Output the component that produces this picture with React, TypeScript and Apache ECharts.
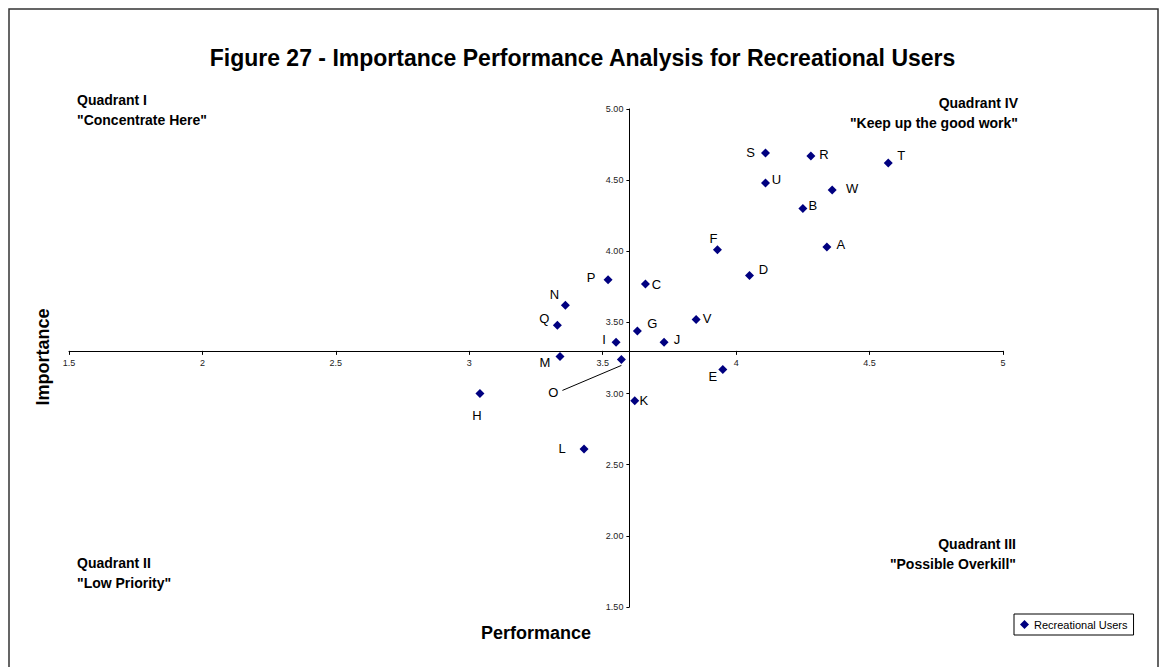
import React, { useEffect, useRef } from "react";
import * as echarts from "echarts";

const pointNames = ["A", "B", "C", "D", "E", "F", "G", "H", "I", "J", "K", "L", "M", "N", "O", "P", "Q", "R", "S", "T", "U", "V", "W"];
const performance = [4.34, 4.25, 3.66, 4.05, 3.95, 3.93, 3.63, 3.04, 3.55, 3.73, 3.62, 3.43, 3.34, 3.36, 3.57, 3.52, 3.33, 4.28, 4.11, 4.57, 4.11, 3.85, 4.36];
const importance = [4.03, 4.30, 3.77, 3.83, 3.17, 4.01, 3.44, 3.00, 3.36, 3.36, 2.95, 2.61, 3.26, 3.62, 3.24, 3.80, 3.48, 4.67, 4.69, 4.62, 4.48, 3.52, 4.43];

const xTicksMin = 1.5;
const xTicksMax = 5;
const yTicksMin = 1.5;
const yTicksMax = 5;
const tickStep = 0.5;
const crossPerformance = 3.6;
const crossImportance = 3.3;

const seriesName = "Recreational Users";
const titleText = "Figure 27 - Importance Performance Analysis for Recreational Users";
const quadrantTexts = {
  q1: 'Quadrant I\n"Concentrate Here"',
  q2: 'Quadrant II\n"Low Priority"',
  q3: 'Quadrant III\n"Possible Overkill"',
  q4: 'Quadrant IV\n"Keep up the good work"',
};

// label placement (style): offset of label centre from marker centre, px
const labelOffsets: Record<string, [number, number]> = {
  A: [14, -3], B: [10, -3], C: [11, 0], D: [14, -6], E: [-10, 7], F: [-4, -11],
  G: [15, -7], H: [-3, 22], I: [-12, -3], J: [13, -3], K: [9, 0], L: [-22, -1],
  M: [-15, 6], N: [-11, -11], O: [-68, 33], P: [-17, -2], Q: [-13, -7], R: [13, -1],
  S: [-15, -1], T: [13, -8], U: [11, -3], V: [11, -1], W: [20, -2],
};

const FONT = '"Liberation Sans", Arial, Helvetica, sans-serif';

export default function App() {
  const ref = useRef<HTMLDivElement>(null);
  useEffect(() => {
    document.body.style.margin = "0";
    if (!ref.current) return;
    const chart = echarts.init(ref.current, null, { renderer: "svg" });
    const grid = { left: 69, top: 109, width: 934, height: 498 };
    const yAxisOffset = -((crossPerformance - xTicksMin) / (xTicksMax - xTicksMin)) * grid.width;
    const xAxisOffset = -((crossImportance - yTicksMin) / (yTicksMax - yTicksMin)) * grid.height;

    const scatterData = pointNames.map((n, i) => ({
      name: n,
      value: [performance[i], importance[i]],
      label: { offset: labelOffsets[n] },
    }));
    const oIndex = pointNames.indexOf("O");

    chart.setOption({
      animation: false,
      backgroundColor: "#ffffff",
      textStyle: { fontFamily: FONT },
      title: {
        text: titleText,
        left: "center",
        top: 41,
        textStyle: { fontFamily: FONT, fontSize: 23, fontWeight: "bold", color: "#000" },
      },
      grid: { ...grid, containLabel: false },
      legend: {
        data: [seriesName],
        left: 1014,
        top: 614,
        orient: "horizontal",
        icon: "diamond",
        itemWidth: 9,
        itemHeight: 9,
        itemGap: 4,
        padding: [5, 6],
        borderColor: "#000",
        borderWidth: 1,
        borderRadius: 0,
        backgroundColor: "#fff",
        itemStyle: { opacity: 1 },
        textStyle: { fontFamily: FONT, fontSize: 11, color: "#000" },
      },
      xAxis: {
        type: "value",
        min: xTicksMin,
        max: xTicksMax,
        interval: tickStep,
        position: "bottom",
        offset: xAxisOffset,
        axisLine: { onZero: false, lineStyle: { color: "#000", width: 1 } },
        axisTick: { show: true, length: 4, lineStyle: { color: "#000" } },
        axisLabel: {
          fontFamily: FONT,
          fontSize: 9,
          color: "#222",
          margin: 8,
          showMinLabel: true,
          showMaxLabel: true,
          formatter: (v: number) => String(v),
        },
        splitLine: { show: false },
      },
      yAxis: {
        type: "value",
        min: yTicksMin,
        max: yTicksMax,
        interval: tickStep,
        position: "left",
        offset: yAxisOffset,
        axisLine: { show: true, onZero: false, lineStyle: { color: "#000", width: 1 } },
        axisTick: { show: true, length: 3, lineStyle: { color: "#000" } },
        axisLabel: {
          fontFamily: FONT,
          fontSize: 9,
          color: "#222",
          margin: 6,
          showMinLabel: true,
          showMaxLabel: true,
          formatter: (v: number) => v.toFixed(2),
        },
        splitLine: { show: false },
      },
      series: [
        {
          name: seriesName,
          type: "scatter",
          symbol: "diamond",
          symbolSize: 9,
          itemStyle: { color: "#000080", opacity: 1 },
          label: {
            show: true,
            position: "inside",
            formatter: "{b}",
            fontFamily: FONT,
            fontSize: 13,
            color: "#000",
            textBorderWidth: 0,
            textBorderColor: "transparent",
          },
          emphasis: { disabled: true },
          data: scatterData,
          z: 3,
        },
        {
          name: "leader",
          type: "custom",
          silent: true,
          data: [[performance[oIndex], importance[oIndex]]],
          renderItem: (params: any, api: any) => {
            const p = api.coord([api.value(0), api.value(1)]);
            return {
              type: "line",
              shape: { x1: p[0], y1: p[1] + 6, x2: p[0] - 59, y2: p[1] + 31 },
              style: { stroke: "#000", lineWidth: 1 },
            };
          },
          z: 2,
        },
      ],
      graphic: [
        {
          type: "rect",
          shape: { x: 9, y: 9, width: 1149, height: 700 },
          style: { fill: "none", stroke: "#333", lineWidth: 1.5 },
          silent: true,
        },
        {
          type: "text",
          x: 77,
          y: 90,
          style: { text: quadrantTexts.q1, font: `bold 14px ${FONT}`, fill: "#000", lineHeight: 20, textAlign: "left" },
        },
        {
          type: "text",
          x: 77,
          y: 553,
          style: { text: quadrantTexts.q2, font: `bold 14px ${FONT}`, fill: "#000", lineHeight: 20, textAlign: "left" },
        },
        {
          type: "text",
          x: 1016,
          y: 534,
          style: { text: quadrantTexts.q3, font: `bold 14px ${FONT}`, fill: "#000", lineHeight: 20, textAlign: "right" },
        },
        {
          type: "text",
          x: 1018,
          y: 93,
          style: { text: quadrantTexts.q4, font: `bold 14px ${FONT}`, fill: "#000", lineHeight: 20, textAlign: "right" },
        },
        {
          type: "text",
          x: 536,
          y: 633,
          style: { text: "Performance", font: `bold 18px ${FONT}`, fill: "#000", textAlign: "center", textVerticalAlign: "middle" },
        },
        {
          type: "text",
          x: 43,
          y: 357,
          rotation: Math.PI / 2,
          style: { text: "Importance", font: `bold 18px ${FONT}`, fill: "#000", textAlign: "center", textVerticalAlign: "middle" },
        },
      ],
    });
    return () => chart.dispose();
  }, []);
  return <div ref={ref} style={{ position: "absolute", left: 0, top: 0, width: 1165, height: 667 }} />;
}
